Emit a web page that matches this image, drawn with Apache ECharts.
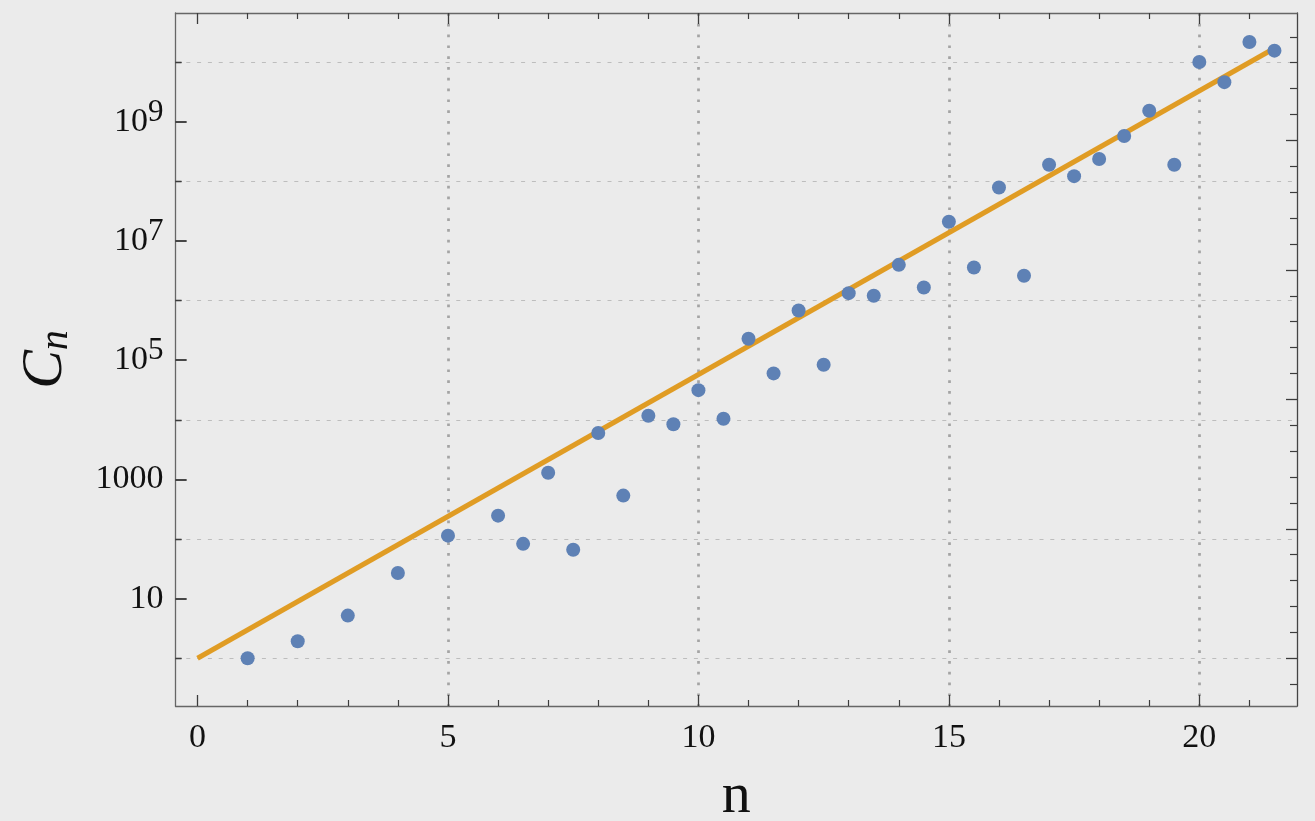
<!DOCTYPE html>
<html>
<head>
<meta charset="utf-8">
<script src="https://cdn.jsdelivr.net/npm/echarts@6/dist/echarts.min.js"></script>
<style>
html,body{margin:0;padding:0;background:#ebebeb;}
#chart{width:1315px;height:821px;}
</style>
</head>
<body>
<div id="chart"></div>
<script>
// ---- data ----
const nValues = [1, 2, 3, 4, 5, 6, 6.5, 7, 7.5, 8, 8.5, 9, 9.5, 10, 10.5, 11, 11.5, 12, 12.5, 13, 13.5, 14, 14.5, 15, 15.5, 16, 16.5, 17, 17.5, 18, 18.5, 19, 19.5, 20, 20.5, 21, 21.5];
const cValues = [1, 1.93, 5.2, 27, 114, 247, 83, 1290, 66, 6000, 535, 11700, 8400, 31400, 10400, 2.28e5, 6.0e4, 6.8e5, 8.4e4, 1.33e6, 1.2e6, 3.97e6, 1.65e6, 2.09e7, 3.58e6, 7.87e7, 2.6e6, 1.89e8, 1.22e8, 2.36e8, 5.73e8, 1.52e9, 1.89e8, 1.0e10, 4.6e9, 2.17e10, 1.55e10];
const fitN = [0, 21.5];
const fitC = [1, 1.7e10];

// ---- ticks and labels ----
const xMajorTicks = [0, 5, 10, 15, 20];
const xTickLabels = ['0', '5', '10', '15', '20'];
const xMinorTicks = [1, 2, 3, 4, 6, 7, 8, 9, 11, 12, 13, 14, 16, 17, 18, 19, 21];
const xGridLines = [5, 10, 15, 20];
const yLabelValues = [10, 1000, 1e5, 1e7, 1e9];
const yTickLabels = ['10', '1000', '10^5', '10^7', '10^9'];
const yMinorTicks = [1, 100, 1e4, 1e6, 1e8, 1e10];
const rightMinorExponents = [-1, 1, 2, 3, 4, 6, 7, 8, 9, 11, 12, 13, 14, 16, 17, 18, 19, 21, 22, 23, 24];
const rightMajorExponents = [0, 5, 10, 15, 20];

const FONT = 'Liberation Serif';
const X_MIN = -0.44, X_MAX = 21.95;
const Y_MIN = 0.1585, Y_MAX = 6.64e10;
const TICK_COLOR = '#3c3c3c';
const FRAME_COLOR = '#666666';
const GRID_LEFT = 175.5, GRID_RIGHT = 18;
const GRID_WIDTH = 1315 - GRID_LEFT - GRID_RIGHT;
const X_UNITS_PER_PX = (X_MAX - X_MIN) / GRID_WIDTH;

function yLabelFormatter(v) {
  for (let i = 0; i < yLabelValues.length; i++) {
    if (Math.abs(Math.log10(v) - Math.log10(yLabelValues[i])) < 1e-6) {
      const t = yTickLabels[i];
      if (t.indexOf('^') >= 0) {
        const p = t.split('^');
        return '{b|' + p[0] + '}{sup|' + p[1] + '}';
      }
      return '{b|' + t + '}';
    }
  }
  return '';
}

// left-frame tick marks as short segments starting on the left frame (x = X_MIN)
function leftTickSegments(values, lengthPx, width) {
  return values.map(v => [
    { coord: [X_MIN, v], lineStyle: { color: TICK_COLOR, width: width, type: 'solid' } },
    { coord: [X_MIN + lengthPx * X_UNITS_PER_PX, v] }
  ]);
}

function xAxisBase(position, extra) {
  return Object.assign({
    type: 'value', gridIndex: 0, position: position, offset: 0, min: X_MIN, max: X_MAX,
    axisLine: { show: false, onZero: false }, axisLabel: { show: false }, splitLine: { show: false },
    axisTick: { show: false }
  }, extra);
}
function yAxisBase(position, extra) {
  return Object.assign({
    type: 'log', logBase: 10, gridIndex: 0, position: position, offset: 0, min: Y_MIN, max: Y_MAX,
    axisLine: { show: false, onZero: false }, axisLabel: { show: false }, splitLine: { show: false },
    axisTick: { show: false }
  }, extra);
}

const chart = echarts.init(document.getElementById('chart'), null, { renderer: 'canvas' });
chart.setOption({
  animation: false,
  backgroundColor: '#ebebeb',
  grid: { left: GRID_LEFT, right: GRID_RIGHT, top: 13, bottom: 115, containLabel: false, outerBoundsMode: 'none' },
  xAxis: [
    xAxisBase('bottom', {
      axisLine: { show: true, onZero: false, lineStyle: { color: FRAME_COLOR, width: 1.3 } },
      axisTick: { show: true, inside: true, length: 11, customValues: xMajorTicks, lineStyle: { color: TICK_COLOR, width: 1.3 } },
      axisLabel: {
        show: true, customValues: xMajorTicks, margin: 15,
        formatter: function (v) { const i = xMajorTicks.indexOf(Math.round(v)); return i >= 0 ? xTickLabels[i] : ''; },
        fontFamily: FONT, fontSize: 34, color: '#111'
      },
      name: 'n', nameLocation: 'middle', nameGap: 62, nameMoveOverlap: false,
      nameTextStyle: { fontFamily: FONT, fontSize: 58, color: '#111' }
    }),
    xAxisBase('bottom', {
      axisTick: { show: true, inside: true, length: 6, customValues: xMinorTicks, lineStyle: { color: TICK_COLOR, width: 1.2 } }
    }),
    xAxisBase('bottom', {
      axisTick: { show: false, customValues: xGridLines },
      splitLine: { show: true, customValues: xGridLines, lineStyle: { color: '#a4a4a4', width: 2.7, type: [2.7, 8.1] } }
    }),
    xAxisBase('top', {
      axisLine: { show: true, onZero: false, lineStyle: { color: FRAME_COLOR, width: 1.3 } },
      axisTick: { show: true, inside: true, length: 11, customValues: xMajorTicks, lineStyle: { color: TICK_COLOR, width: 1.3 } }
    }),
    xAxisBase('top', {
      axisTick: { show: true, inside: true, length: 6, customValues: xMinorTicks, lineStyle: { color: TICK_COLOR, width: 1.2 } }
    })
  ],
  yAxis: [
    yAxisBase('left', {
      axisLine: { show: true, onZero: false, lineStyle: { color: FRAME_COLOR, width: 1.3 } },
      axisTick: { show: false, customValues: yLabelValues },
      axisLabel: {
        show: true, customValues: yLabelValues, margin: 12, formatter: yLabelFormatter,
        fontFamily: FONT, fontSize: 34, color: '#111',
        rich: {
          b: { fontFamily: FONT, fontSize: 34, lineHeight: 34, color: '#111' },
          sup: { fontFamily: FONT, fontSize: 31, lineHeight: 31, color: '#111', padding: [0, 0, 18, 0] }
        }
      },
      name: '{c|C}{s|n}', nameLocation: 'middle', nameGap: 101, nameMoveOverlap: false,
      nameTextStyle: {
        fontFamily: FONT, color: '#111',
        rich: {
          c: { fontFamily: FONT, fontSize: 58, fontStyle: 'italic', lineHeight: 58, color: '#111' },
          s: { fontFamily: FONT, fontSize: 40, fontStyle: 'italic', lineHeight: 40, color: '#111', padding: [22, 0, 0, 0] }
        }
      }
    }),
    yAxisBase('left', {
      axisTick: { show: true, inside: true, length: 11, customValues: yLabelValues, lineStyle: { color: TICK_COLOR, width: 1.5 } }
    }),
    yAxisBase('left', {
      axisTick: { show: true, inside: true, length: 6, customValues: yMinorTicks, lineStyle: { color: TICK_COLOR, width: 1.3 } },
      splitLine: { show: true, customValues: yMinorTicks, lineStyle: { color: '#bdbdbd', width: 1.2, type: [4, 6.8] } }
    }),
    yAxisBase('right', {
      axisLine: { show: true, onZero: false, lineStyle: { color: '#444', width: 1.3 } },
      axisTick: { show: true, inside: true, length: 7, customValues: rightMinorExponents.map(k => Math.exp(k)), lineStyle: { color: TICK_COLOR, width: 1.2 } }
    }),
    yAxisBase('right', {
      axisTick: { show: true, inside: true, length: 11, customValues: rightMajorExponents.map(k => Math.exp(k)), lineStyle: { color: TICK_COLOR, width: 1.3 } }
    })
  ],
  series: [
    {
      type: 'line', xAxisIndex: 0, yAxisIndex: 0, silent: true,
      data: fitN.map((n, i) => [n, fitC[i]]),
      showSymbol: false, symbol: 'none',
      lineStyle: { color: '#E09C24', width: 5 },
      z: 2
    },
    {
      type: 'scatter', xAxisIndex: 0, yAxisIndex: 0, silent: true,
      data: nValues.map((n, i) => [n, cValues[i]]),
      symbol: 'circle', symbolSize: 14,
      itemStyle: { color: '#5E81B5', opacity: 1 },
      z: 3,
      markLine: {
        silent: true, symbol: ['none', 'none'], animation: false,
        label: { show: false },
        emphasis: { disabled: true },
        lineStyle: { color: TICK_COLOR, width: 1.5, type: 'solid' },
        data: leftTickSegments(yLabelValues, 11, 1.5).concat(leftTickSegments(yMinorTicks, 6, 1.3))
      }
    }
  ]
});
</script>
</body>
</html>
